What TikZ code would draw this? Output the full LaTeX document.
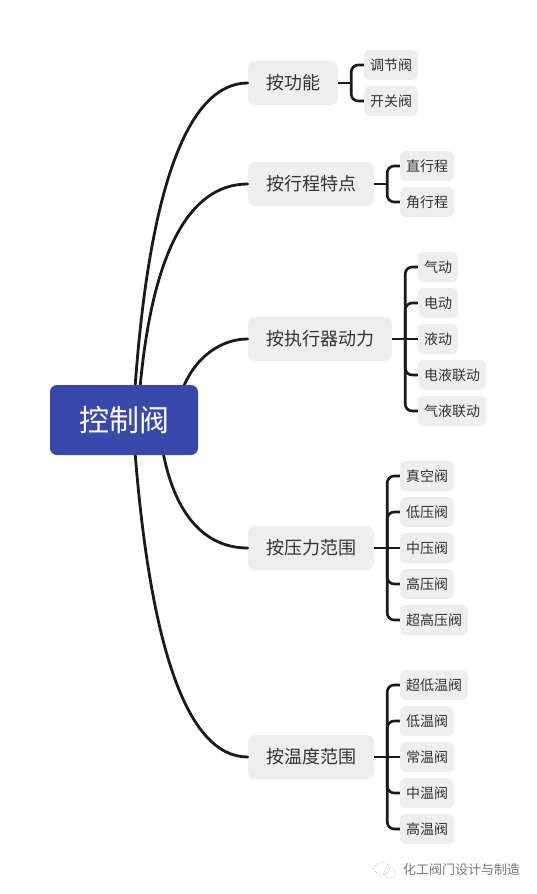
\documentclass[tikz,border=0pt]{standalone}
\usepackage{fontspec}
\setmainfont{Noto Sans CJK SC}
\definecolor{rootblue}{HTML}{3949AB}
\definecolor{boxgray}{HTML}{EEEEEE}
\definecolor{inkdark}{HTML}{333333}
\definecolor{linedark}{HTML}{1A1A1A}
\definecolor{markgray}{HTML}{777777}
\tikzset{
 rootbox/.style={fill=rootblue,rounded corners=7pt,text=white,minimum width=148pt,minimum height=70pt,inner sep=0pt,font=\fontsize{30}{32}\selectfont},
 midbox/.style={fill=boxgray,rounded corners=7pt,text=inkdark,minimum width=#1,minimum height=44pt,inner sep=0pt,font=\fontsize{18}{20}\selectfont},
 leafbox/.style={fill=boxgray,rounded corners=6pt,text=inkdark,minimum width=#1,minimum height=30pt,inner sep=0pt,font=\fontsize{14}{16}\selectfont},
 link/.style={draw=linedark,line width=2.8pt,line cap=round},
 brace/.style={draw=linedark,line width=2.6pt,rounded corners=7pt},
 stem/.style={draw=linedark,line width=2.6pt},
}
\begin{document}
\begin{tikzpicture}[x=1pt,y=-1pt]
\useasboundingbox (0,0) rectangle (536,894);
% root
\coordinate (ra) at (135,388);
\coordinate (rb) at (140,388);
\coordinate (rc) at (183,388);
\coordinate (rd) at (163,452);
\coordinate (re) at (135,452);
% mid nodes
\node[midbox=90pt] (a) at (293,83) {按功能};
\node[midbox=126pt] (b) at (311,184) {按行程特点};
\node[midbox=144pt] (c) at (320,339) {按执行器动力};
\node[midbox=126pt] (d) at (311,548) {按压力范围};
\node[midbox=126pt] (e) at (311,757) {按温度范围};
% leaves
\node[leafbox=54pt] (a1) at (391,65) {调节阀};
\node[leafbox=54pt] (a2) at (391,101) {开关阀};
\node[leafbox=54pt] (b1) at (427,166) {直行程};
\node[leafbox=54pt] (b2) at (427,202) {角行程};
\node[leafbox=40pt] (c1) at (438,267) {气动};
\node[leafbox=40pt] (c2) at (438,303) {电动};
\node[leafbox=40pt] (c3) at (438,339) {液动};
\node[leafbox=68pt] (c4) at (452,375) {电液联动};
\node[leafbox=68pt] (c5) at (452,411) {气液联动};
\node[leafbox=54pt] (d1) at (427,476) {真空阀};
\node[leafbox=54pt] (d2) at (427,512) {低压阀};
\node[leafbox=54pt] (d3) at (427,548) {中压阀};
\node[leafbox=54pt] (d4) at (427,584) {高压阀};
\node[leafbox=68pt] (d5) at (434,620) {超高压阀};
\node[leafbox=68pt] (e1) at (434,685) {超低温阀};
\node[leafbox=54pt] (e2) at (427,721) {低温阀};
\node[leafbox=54pt] (e3) at (427,757) {常温阀};
\node[leafbox=54pt] (e4) at (427,793) {中温阀};
\node[leafbox=54pt] (e5) at (427,829) {高温阀};
% curves
\draw[link] (ra) .. controls (150,180) and (190,83) .. (a.west);
\draw[link] (rb) .. controls (152,255) and (188,184) .. (b.west);
\draw[link] (rc) .. controls (195,358) and (220,339) .. (c.west);
\draw[link] (rd) .. controls (175,515) and (205,548) .. (d.west);
\draw[link] (re) .. controls (150,640) and (185,757) .. (e.west);
\node[rootbox] (root) at (124,420) {控制阀};
% braces
\foreach \p/\t in {a/a1,a/a2,b/b1,b/b2,c/c1,c/c2,c/c4,c/c5,d/d1,d/d2,d/d4,d/d5,e/e1,e/e2,e/e4,e/e5}{
  \path (\p.east) ++(13,0) coordinate (trunk);
  \draw[stem] (\p.east) -- (trunk);
  \draw[brace] (trunk) |- (\t.west);
}
\foreach \p/\t in {c/c3,d/d3,e/e3}{
  \draw[stem] (\p.east) -- (\t.west);
}
% watermark
\node[text=markgray,inner sep=0pt,font=\fontsize{13}{15}\selectfont] (mark) at (461.5,870) {化工阀门设计与制造};
\begin{scope}[draw=markgray!70,line width=0.5pt,densely dotted]
\draw (382,868.5) ellipse (7.5pt and 6pt);
\draw (390,873) ellipse (6pt and 5pt);
\end{scope}
\end{tikzpicture}
\end{document}
